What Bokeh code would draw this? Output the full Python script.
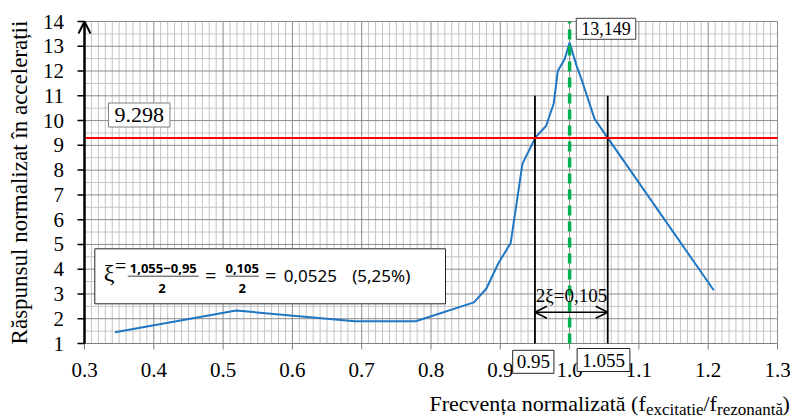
import math
from bokeh.plotting import figure
from bokeh.models import Label, Arrow, OpenHead, Range1d
from bokeh.core.properties import value
from bokeh.embed import file_html
from bokeh.resources import INLINE

# ---------------- data ----------------
freq = [0.344, 0.519, 0.690, 0.778, 0.862, 0.880, 0.897, 0.915, 0.932, 0.951,
        0.966, 0.977, 0.983, 0.993, 1.000, 1.010, 1.018, 1.036, 1.055, 1.208]
resp = [1.45, 2.33, 1.90, 1.90, 2.66, 3.22, 4.23, 5.06, 8.26, 9.33,
        9.78, 10.68, 12.00, 12.49, 13.149, 12.22, 11.60, 10.07, 9.30, 3.15]
x_ticks = [0.3, 0.4, 0.5, 0.6, 0.7, 0.8, 0.9, 1.0, 1.1, 1.2, 1.3]
x_tick_labels = ["0.3", "0.4", "0.5", "0.6", "0.7", "0.8", "0.9", "1.0", "1.1", "1.2", "1.3"]
y_ticks = [1, 2, 3, 4, 5, 6, 7, 8, 9, 10, 11, 12, 13, 14]
y_tick_labels = [str(v) for v in y_ticks]
half_power_level = 9.298
peak_value = 13.149
f_low, f_high = 0.95, 1.055
f_res = 1.0
band_top = 11
arrow_level = 2.26
y_title = "Răspunsul normalizat în accelerații"
band_text = "2ξ=0,105"

X0, X1, Y0, Y1 = 0.3, 1.3, 1.0, 14.0
SERIF = "Liberation Serif"
MATH = "Noto Sans"

# page / plot-area geometry (pixels)
W, H = 790, 418
PL, PR, PT, PB = 84, 777, 21, 343
SX = (PR - PL) / (X1 - X0)
SY = (PB - PT) / (Y1 - Y0)

def dx(px):
    return X0 + (px - PL) / SX
def dy(py):
    return Y0 + (PB - py) / SY

p = figure(width=W, height=H, output_backend="svg", toolbar_location=None,
           x_range=Range1d(dx(0), dx(W)), y_range=Range1d(dy(H), dy(0)),
           x_axis_type=None, y_axis_type=None, min_border=0)
p.outline_line_color = None
p.background_fill_color = "white"
p.border_fill_color = "white"

# ---------------- grid ----------------
minor_x = [round(X0 + 0.01 * i, 2) for i in range(101) if i % 10 != 0]
minor_y = [v + 0.5 for v in y_ticks[:-1]]
p.segment(x0=minor_x, y0=[Y0] * len(minor_x), x1=minor_x, y1=[Y1] * len(minor_x),
          line_color="#c4c4c4", line_width=1)
p.segment(x0=[X0] * len(minor_y), y0=minor_y, x1=[X1] * len(minor_y), y1=minor_y,
          line_color="#c4c4c4", line_width=1)
p.segment(x0=x_ticks, y0=[Y0] * len(x_ticks), x1=x_ticks, y1=[Y1] * len(x_ticks),
          line_color="#8c8c8c", line_width=1)
p.segment(x0=[X0] * len(y_ticks), y0=y_ticks, x1=[X1] * len(y_ticks), y1=y_ticks,
          line_color="#8c8c8c", line_width=1)

# ---------------- axes ----------------
p.segment(x0=[X0], y0=[Y0], x1=[X1], y1=[Y0], line_color="#808080", line_width=1)
p.segment(x0=x_ticks, y0=[Y0] * len(x_ticks), x1=x_ticks, y1=[Y0 - 6 / SY] * len(x_ticks),
          line_color="#808080", line_width=1)
p.text(x=x_ticks, y=[Y0 - 26 / SY] * len(x_ticks), text=x_tick_labels,
       text_font=value(SERIF), text_font_size="21px", text_color="black",
       text_align="center", text_baseline="middle")
p.segment(x0=[X0], y0=[Y0], x1=[X0], y1=[Y1], line_color="black", line_width=2)
p.segment(x0=[X0 - 7 / SX] * len(y_ticks), y0=y_ticks, x1=[X0] * len(y_ticks), y1=y_ticks,
          line_color="black", line_width=1.5)
p.text(x=[X0 - 20.5 / SX] * len(y_ticks), y=y_ticks, text=y_tick_labels,
       text_font=value(SERIF), text_font_size="21px", text_color="black",
       text_align="right", text_baseline="middle")
p.add_layout(Arrow(end=OpenHead(size=12, line_width=2, line_color="black"),
                   x_start=X0, y_start=Y0, x_end=X0, y_end=Y1,
                   line_color="black", line_width=2))

# ---------------- formula box (behind its fraction bars) ----------------
p.quad(left=[dx(94.3)], right=[dx(445)], top=[dy(248.3)], bottom=[dy(303.3)],
       fill_color="white", line_color="#262626", line_width=1)
p.segment(x0=[dx(127.3), dx(225)], y0=[dy(275.7), dy(275.7)],
          x1=[dx(198.3), dx(258.3)], y1=[dy(275.7), dy(275.7)],
          line_color="#404040", line_width=1)

# ---------------- response curve and markers ----------------
p.line(freq, resp, line_color="#1f77c4", line_width=2)
p.segment(x0=[f_low, f_high], y0=[Y0, Y0], x1=[f_low, f_high], y1=[band_top, band_top],
          line_color="black", line_width=1.8)
p.segment(x0=[X0], y0=[half_power_level], x1=[X1], y1=[half_power_level],
          line_color="#ff0000", line_width=2)
p.segment(x0=[f_res], y0=[Y0], x1=[f_res], y1=[Y1],
          line_color="#00b050", line_width=3.5, line_dash="10 6")

p.add_layout(Arrow(start=OpenHead(size=12, line_width=1.5, line_color="black"),
                   end=OpenHead(size=12, line_width=1.5, line_color="black"),
                   x_start=f_low, y_start=arrow_level, x_end=f_high, y_end=arrow_level,
                   line_color="black", line_width=1.5))

def lab(px, py, s, font, size, align="left", **kw):
    p.add_layout(Label(x=dx(px), y=dy(py), text=s,
                       text_font=font, text_font_size=size, text_align=align,
                       text_baseline="middle", text_color="black", **kw))

lab(571, 295, band_text, SERIF, "19px", "center")

# y axis title (rotated)
p.add_layout(Label(x=dx(19), y=dy(182), text=y_title, angle=math.pi / 2,
                   text_font=SERIF, text_font_size="23px", text_align="center",
                   text_baseline="middle", text_color="black"))

# boxed value labels
def boxed(px, py, s, size, border, pad):
    lab(px, py, s, SERIF, size, "center",
        background_fill_color="white", border_line_color=border,
        border_line_width=1, padding=pad)

boxed(138.7, 114.5, f"{half_power_level:.3f}", "22px", "#7f7f7f", (6, 5))
boxed(605.5, 28.3, f"{peak_value:.3f}".replace(".", ","), "18px", "#404040", (5, 4))
boxed(532.8, 361.3, f"{f_low:.2f}", "19px", "#262626", (4, 5))
boxed(603.0, 359.5, f"{f_high:.3f}", "19px", "#262626", (5, 5))

# damping formula text
lab(103.3, 272, "ξ", SERIF, "24px")
lab(114.5, 265, "=", SERIF, "20px")
lab(162.8, 267.5, "1,055−0,95", MATH, "13px", "center", text_font_style="bold")
lab(161.5, 288.3, "2", MATH, "13px", "center", text_font_style="bold")
lab(204.5, 274.5, "=", MATH, "20px")
lab(241.7, 267.5, "0,105", MATH, "13px", "center", text_font_style="bold")
lab(241.7, 288.3, "2", MATH, "13px", "center", text_font_style="bold")
lab(264.5, 274.5, "=", MATH, "20px")
lab(283.3, 275.3, "0,0525", MATH, "17px")
lab(351.7, 275.3, "(5,25%)", MATH, "17px")

# x axis title with subscripts
lab(429, 403, "Frecvența normalizată (f", SERIF, "22px")
lab(645.5, 408.5, "excitatie", SERIF, "17px")
lab(703, 403, "/f", SERIF, "22px")
lab(716.5, 408.5, "rezonantă", SERIF, "17px")
lab(782, 403, ")", SERIF, "22px")

open("out.html", "w").write(file_html(p, INLINE))
